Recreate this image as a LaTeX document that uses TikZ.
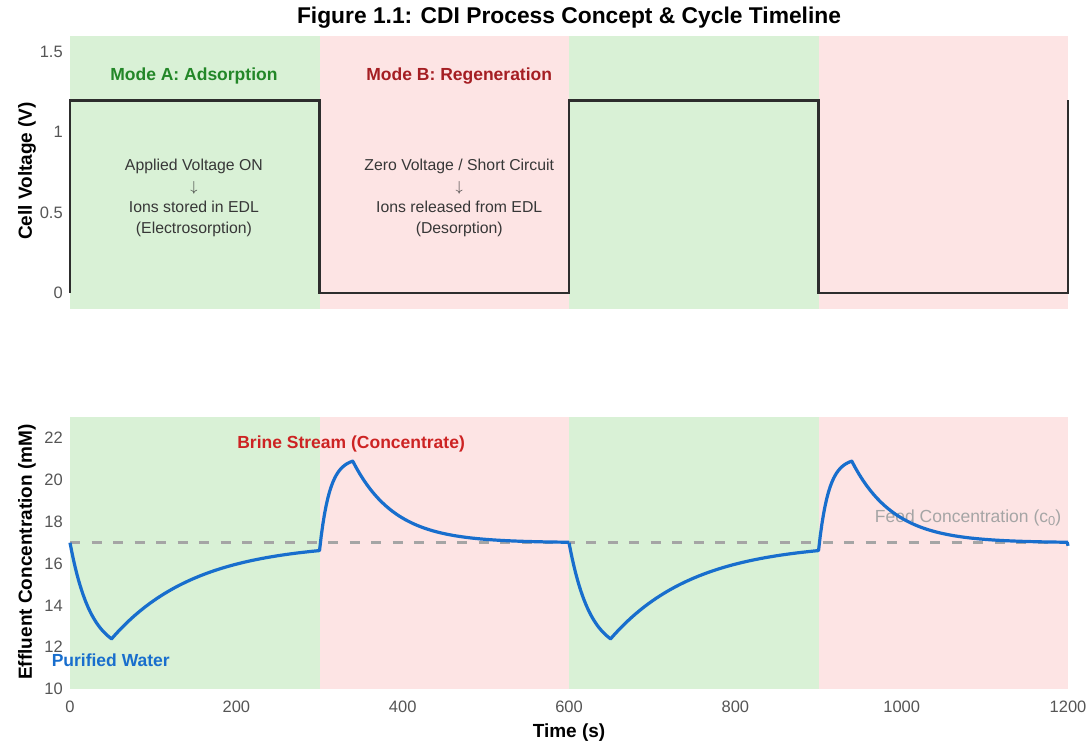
\documentclass[tikz,border=0pt]{standalone}
\usepackage{fontspec}
\setmainfont{Liberation Sans}
\definecolor{adsfill}{RGB}{217,241,214}
\definecolor{regfill}{RGB}{253,228,228}
\definecolor{curveblue}{RGB}{24,110,205}
\definecolor{modegreen}{RGB}{35,135,40}
\definecolor{modered}{RGB}{165,30,35}
\definecolor{brinered}{RGB}{205,35,35}
\definecolor{tickgray}{RGB}{85,85,85}
\definecolor{notegray}{RGB}{55,55,55}
\definecolor{feedgray}{RGB}{165,165,165}
\definecolor{voltline}{RGB}{45,45,45}

\begin{document}
\begin{tikzpicture}[x=1pt, y=1pt,
    base/.style = {inner sep=0pt, text=notegray},
    tick/.style = {base, text=tickgray, font=\fontsize{16.5}{18}\selectfont},
    axlabel/.style = {base, text=black, font=\fontsize{19}{21}\selectfont\bfseries},
    mode/.style = {base, font=\fontsize{17.5}{20}\selectfont\bfseries},
    note/.style = {base, align=center, font=\fontsize{15.8}{21}\selectfont},
    adsband/.style = {fill=adsfill},
    regband/.style = {fill=regfill},
    voltage/.style = {draw=voltline, line width=2.7pt, line join=miter},
    curve/.style = {draw=curveblue, line width=3.2pt, line join=round},
    feedline/.style = {draw=feedgray, line width=2.4pt, dash pattern=on 10pt off 11.5pt}
]

  \useasboundingbox (0,0) rectangle (1090,744);

  \node[axlabel, font=\fontsize{22.8}{25}\selectfont\bfseries] (title) at (569,726) {Figure 1.1: CDI Process Concept \& Cycle Timeline};

  \begin{scope}[shift={(70,451)}, x=0.8317pt, y=160.7pt]
    \foreach \s in {0,600} {
      \fill[adsband] (\s,-0.1) rectangle ++(300,1.7);
      \fill[regband] (\s+300,-0.1) rectangle ++(300,1.7);
    }
    \draw[voltage] (0,0) -- (0,1.2) -- (300,1.2) -- (300,0) -- (600,0) -- (600,1.2)
      -- (900,1.2) -- (900,0) -- (1200,0) -- (1200,1.2);

    \foreach \v [count=\i] in {0,0.5,1,1.5}
      \node[tick, anchor=east] (vtick\i) at (-8.5,\v) {\v};

    \node[mode, text=modegreen] (modeA) at (149,1.35) {Mode A: Adsorption};
    \node[mode, text=modered]   (modeB) at (468,1.35) {Mode B: Regeneration};
    \node[note] (noteA) at (149,0.59) {Applied Voltage ON\\$\downarrow$\\Ions stored in EDL\\(Electrosorption)};
    \node[note] (noteB) at (468,0.59) {Zero Voltage / Short Circuit\\$\downarrow$\\Ions released from EDL\\(Desorption)};
  \end{scope}

  \begin{scope}[shift={(70,-154)}, x=0.8317pt, y=20.9pt]
    \foreach \s in {0,600} {
      \fill[adsband] (\s,10) rectangle ++(300,13);
      \fill[regband] (\s+300,10) rectangle ++(300,13);
    }
    \draw[feedline] (0,17) -- (1200,17);

    \foreach \c [count=\i] in {10,12,...,22}
      \node[tick, anchor=east] (ctick\i) at (-8.5,\c) {\c};
    \foreach \t [count=\i] in {0,200,...,1200}
      \node[tick] (ttick\i) at (\t,9.14) {\t};

    \node[base, text=feedgray, anchor=east, font=\fontsize{17.5}{19}\selectfont] (feed) at (1192,18.18) {Feed Concentration (c\raisebox{-0.35ex}{\fontsize{13}{14}\selectfont 0})};

    \foreach \s in {0,600}
      \draw[curve] plot[domain=0:50, samples=26] ({\x+\s},{17-5.32*(1-exp(-\x/25))})
        -- plot[domain=50:300, samples=60] ({\x+\s},{17-4.6*exp(-(\x-50)/100)})
        -- plot[domain=300:340, samples=21] ({\x+\s},{16.62+4.44*(1-exp(-(\x-300)/12))})
        -- plot[domain=340:600, samples=60] ({\x+\s},{17+3.9*exp(-(\x-340)/50)});
    \draw[curve] (1199,17.02) -- (1200,16.85);

    \node[mode, text=brinered]   (brine)  at (338,21.72) {Brine Stream (Concentrate)};
    \node[mode, text=curveblue]  (pure)   at (49,11.39) {Purified Water};
  \end{scope}

  \node[axlabel] (tlabel) at (569,11) {Time (s)};
  \node[axlabel, rotate=90] (vlabel) at (27,573) {Cell Voltage (V)};
  \node[axlabel, rotate=90] (clabel) at (27,192) {Effluent Concentration (mM)};

\end{tikzpicture}
\end{document}
